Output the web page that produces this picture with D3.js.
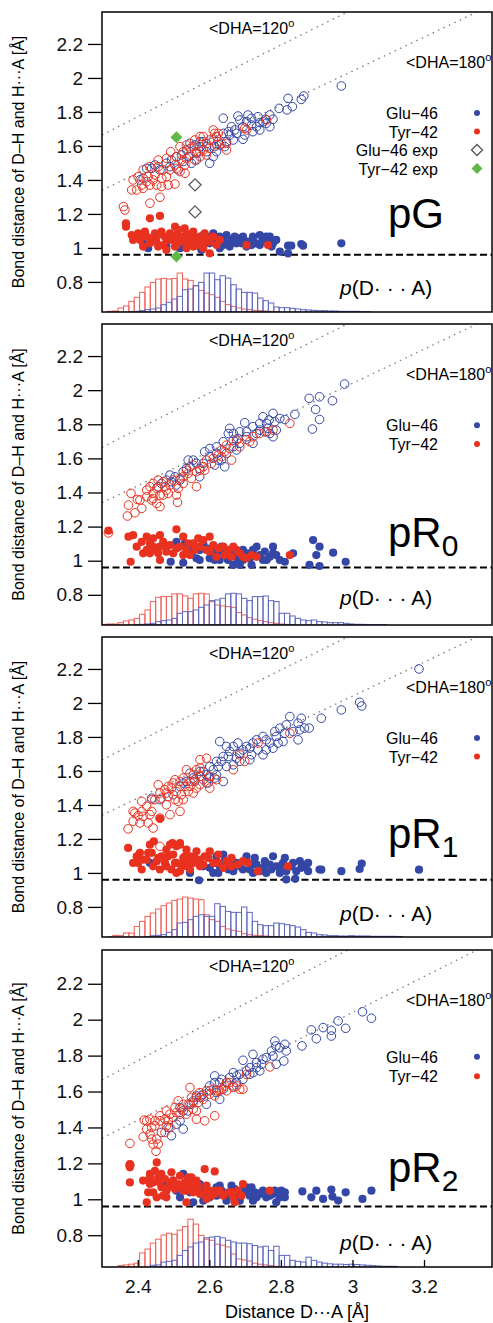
<!DOCTYPE html>
<html>
<head>
<meta charset="utf-8">
<script src="https://cdn.jsdelivr.net/npm/d3@7"></script>
<style>
body { margin: 0; background: #fff; }
svg { display: block; }
text { font-family: "Liberation Sans", Arial, Helvetica, sans-serif; }
</style>
</head>
<body>
<script>
// ---- data ----
var xTicks = [2.4, 2.6, 2.8, 3, 3.2];
var yTicks = [0.8, 1, 1.2, 1.4, 1.6, 1.8, 2, 2.2];
var panelNames = ["pG", "pR0", "pR1", "pR2"];
var dhEq = 0.96;              // equilibrium D-H distance (dashed line)
var histStart = 2.30, histBin = 0.015;

// pG
var pG_glu_HA = [[2.969,1.953],[2.820,1.880],[2.864,1.894],[2.857,1.874],[2.832,1.831],[2.817,1.812],[2.795,1.821],[2.680,1.776],[2.639,1.763],[2.708,1.782],[2.736,1.772],[2.757,1.757],[2.778,1.757],[2.769,1.713],[2.741,1.694],[2.718,1.723],[2.694,1.713],[2.676,1.674],[2.653,1.684],[2.667,1.635],[2.694,1.639],[2.722,1.684],[2.750,1.743],[2.704,1.743],[2.662,1.713],[2.639,1.674],[2.643,1.596],[2.615,1.596],[2.611,1.537],[2.592,1.566],[2.574,1.596],[2.564,1.517],[2.550,1.498],[2.536,1.576],[2.527,1.508],[2.513,1.459],[2.490,1.478],[2.462,1.459],[2.439,1.468],[2.425,1.468],[2.415,1.410],[2.406,1.400],[2.583,1.625],[2.625,1.625],[2.559,1.606],[2.508,1.537],[2.480,1.498],[2.541,1.537],[2.601,1.498],
    [2.574,1.625],[2.592,1.596],[2.611,1.635],[2.629,1.606],[2.657,1.664],[2.671,1.694],[2.685,1.753],[2.718,1.763],[2.741,1.737],[2.759,1.733],[2.620,1.566],[2.564,1.557],[2.522,1.547],[2.494,1.517],[2.448,1.488],[2.546,1.615],[2.648,1.625],[2.699,1.664],[2.769,1.782],[2.732,1.713]];
var pG_tyr_HA = [[2.360,1.243],[2.364,1.223],[2.383,1.341],[2.397,1.341],[2.387,1.400],[2.411,1.370],[2.434,1.370],[2.453,1.370],[2.434,1.263],[2.462,1.298],[2.485,1.370],[2.504,1.376],[2.429,1.419],[2.448,1.429],[2.467,1.410],[2.471,1.459],[2.490,1.459],[2.504,1.488],[2.522,1.517],[2.492,1.566],[2.527,1.566],[2.546,1.547],[2.559,1.517],[2.574,1.537],[2.583,1.576],[2.601,1.586],[2.620,1.606],[2.625,1.674],[2.615,1.674],[2.634,1.615],[2.648,1.576],[2.601,1.635],[2.574,1.655],[2.555,1.596],[2.536,1.527],[2.518,1.449],[2.480,1.419],[2.457,1.478],[2.443,1.400],[2.415,1.351],[2.760,1.753],[2.704,1.694],[2.592,1.615],[2.564,1.566],[2.508,1.468],[2.532,1.439],
    [2.518,1.596],[2.536,1.606],[2.559,1.635],[2.583,1.655],[2.611,1.694],[2.620,1.655],[2.508,1.537],[2.480,1.527],[2.457,1.517],[2.434,1.478],[2.415,1.459],[2.401,1.419],[2.425,1.390],[2.466,1.361],[2.546,1.586],[2.574,1.566],[2.592,1.547],[2.699,1.704],[2.648,1.615],[2.532,1.488]];
var pG_glu_DH = [[2.429,0.998],[2.480,1.008],[2.518,0.998],[2.555,1.066],[2.583,1.076],[2.611,1.086],[2.629,1.066],[2.648,1.076],[2.662,1.047],[2.676,1.027],[2.694,1.066],[2.708,1.037],[2.722,1.066],[2.732,1.027],[2.750,1.047],[2.769,1.066],[2.778,1.027],[2.797,0.978],[2.820,1.013],[2.829,1.013],[2.820,0.968],[2.857,1.023],[2.862,1.013],[2.969,1.027],[2.573,1.008],[2.601,1.027],[2.620,1.047],[2.639,1.017],[2.680,1.057],[2.704,1.008],[2.741,1.076],[2.759,1.037],[2.415,1.027],[2.541,1.047],[2.657,1.008],[2.718,1.017],
    [2.564,1.047],[2.592,1.066],[2.615,1.057],[2.639,1.047],[2.653,1.027],[2.671,1.066],[2.690,1.027],[2.722,1.037],[2.741,1.017],[2.759,1.066],[2.787,1.047],[2.774,1.008],[2.629,0.998],[2.578,0.988],[2.518,1.027]];
var pG_tyr_DH = [[2.367,1.145],[2.367,1.125],[2.434,1.174],[2.462,1.188],[2.504,1.125],[2.531,1.115],[2.383,1.076],[2.397,1.066],[2.411,1.082],[2.425,1.066],[2.443,1.057],[2.457,1.076],[2.476,1.066],[2.490,1.086],[2.508,1.076],[2.522,1.066],[2.536,1.086],[2.555,1.096],[2.434,1.027],[2.452,1.037],[2.471,1.017],[2.490,1.047],[2.508,1.017],[2.527,1.037],[2.546,1.027],[2.564,1.047],[2.583,1.027],[2.601,1.037],[2.620,1.017],[2.574,1.066],[2.592,1.057],[2.536,0.998],[2.601,0.968],[2.704,1.017],[2.764,1.017],[2.406,1.047],[2.480,0.988],[2.518,1.047],[2.629,1.047],[2.555,1.008],
    [2.387,1.047],[2.401,1.086],[2.420,1.096],[2.448,1.086],[2.466,1.096],[2.480,1.047],[2.499,1.057],[2.513,1.106],[2.532,1.057],[2.550,1.066],[2.569,1.017],[2.587,1.086],[2.611,1.066],[2.504,1.008],[2.457,1.008],[2.439,1.057],[2.415,1.008],[2.583,0.998]];
var pG_glu_hist = [0,0,0,0,0,1,2,4,7,9,12,22,29,39,47,67,69,79,89,117,117,97,109,102,82,69,59,59,57,42,34,27,15,13,13,11,9,7,6,5,4,4,3,3,2,2,2,2,1,1];
var pG_tyr_hist = [0,2,3,12,18,32,44,59,75,89,99,101,99,101,117,99,95,79,65,57,52,44,32,22,17,12,9,7,5,4,3,2,1];
var gluExp = [[2.560,1.371],[2.560,1.212]];
var tyrExp = [[2.508,1.651],[2.508,0.949]];

// pR0
var pR0_glu_HA = [[2.978,2.036],[2.879,1.952],[2.908,1.961],[2.944,1.938],[2.897,1.887],[2.908,1.828],[2.888,1.772],[2.839,1.858],[2.811,1.828],[2.778,1.864],[2.783,1.815],[2.767,1.825],[2.750,1.844],[2.741,1.805],[2.722,1.786],[2.699,1.809],[2.685,1.756],[2.667,1.746],[2.653,1.746],[2.680,1.717],[2.704,1.727],[2.722,1.688],[2.755,1.756],[2.778,1.727],[2.787,1.766],[2.764,1.776],[2.639,1.698],[2.620,1.668],[2.648,1.629],[2.667,1.668],[2.587,1.639],[2.601,1.610],[2.625,1.590],[2.583,1.571],[2.555,1.590],[2.541,1.590],[2.546,1.551],[2.573,1.492],[2.527,1.522],[2.518,1.473],[2.490,1.502],[2.494,1.463],[2.466,1.453],[2.643,1.551],[2.615,1.561],[2.573,1.541],[2.508,1.444],
    [2.667,1.707],[2.685,1.688],[2.704,1.756],[2.732,1.746],[2.760,1.805],[2.797,1.834],[2.769,1.746],[2.620,1.629],[2.601,1.658],[2.564,1.571],[2.536,1.541],[2.504,1.492],[2.480,1.473],[2.457,1.434],[2.657,1.776],[2.676,1.649],[2.741,1.766],[2.634,1.590]];
var pR0_tyr_HA = [[2.374,1.326],[2.371,1.262],[2.392,1.281],[2.411,1.307],[2.381,1.395],[2.399,1.359],[2.425,1.375],[2.434,1.434],[2.443,1.395],[2.453,1.336],[2.462,1.317],[2.471,1.385],[2.485,1.395],[2.457,1.473],[2.471,1.463],[2.490,1.444],[2.513,1.424],[2.511,1.342],[2.518,1.483],[2.536,1.531],[2.550,1.483],[2.564,1.434],[2.574,1.531],[2.592,1.590],[2.587,1.531],[2.606,1.571],[2.625,1.619],[2.643,1.639],[2.657,1.658],[2.662,1.590],[2.634,1.649],[2.676,1.707],[2.704,1.711],[2.722,1.727],[2.741,1.746],[2.760,1.756],[2.825,1.805],[2.443,1.453],[2.480,1.414],[2.527,1.453],[2.555,1.561],[2.439,1.356],[2.318,1.163],
    [2.425,1.414],[2.453,1.424],[2.476,1.434],[2.499,1.473],[2.527,1.492],[2.541,1.512],[2.564,1.522],[2.583,1.551],[2.611,1.600],[2.634,1.610],[2.648,1.678],[2.685,1.668],[2.713,1.698],[2.406,1.356],[2.462,1.385],[2.508,1.385],[2.778,1.766],[2.443,1.365]];
var pR0_glu_DH = [[2.508,1.111],[2.532,1.102],[2.555,1.092],[2.573,1.063],[2.592,1.072],[2.611,1.043],[2.629,1.053],[2.652,1.004],[2.667,0.975],[2.685,0.975],[2.704,1.043],[2.722,1.063],[2.741,1.033],[2.760,1.004],[2.778,1.082],[2.778,1.043],[2.797,1.004],[2.811,0.994],[2.834,1.043],[2.492,0.994],[2.527,0.988],[2.573,1.004],[2.601,1.014],[2.671,1.043],[2.713,1.014],[2.750,1.004],[2.890,1.121],[2.908,1.082],[2.899,1.033],[2.946,1.047],[2.880,0.975],[2.908,0.969],[2.981,0.994],[2.629,1.004],[2.694,1.004],[2.550,1.043],
    [2.546,1.072],[2.583,1.102],[2.606,1.053],[2.634,1.082],[2.648,1.043],[2.680,1.004],[2.694,1.063],[2.732,1.082],[2.755,1.053],[2.769,1.023],[2.787,1.033],[2.718,0.975],[2.615,1.004],[2.564,1.014]];
var pR0_tyr_DH = [[2.318,1.176],[2.374,1.141],[2.387,1.150],[2.411,1.111],[2.380,0.994],[2.425,1.063],[2.443,1.131],[2.462,1.150],[2.434,1.043],[2.457,1.043],[2.480,1.082],[2.480,1.053],[2.508,1.184],[2.499,1.043],[2.518,1.082],[2.536,1.063],[2.555,1.102],[2.546,1.033],[2.569,1.131],[2.573,1.082],[2.592,1.063],[2.611,1.092],[2.620,1.023],[2.639,1.082],[2.653,1.063],[2.667,1.082],[2.662,1.023],[2.685,1.043],[2.704,1.014],[2.732,1.023],[2.462,1.082],[2.415,1.043],[2.443,1.082],[2.825,1.033],[2.601,1.141],[2.527,1.141],
    [2.397,1.082],[2.434,1.102],[2.453,1.063],[2.471,1.111],[2.490,1.092],[2.508,1.072],[2.527,1.033],[2.541,1.102],[2.559,1.063],[2.583,1.121],[2.601,1.053],[2.625,1.072],[2.643,1.033],[2.676,1.063],[2.694,1.023],[2.718,1.033],[2.425,1.141],[2.462,1.004]];
var pR0_glu_hist = [0,0,0,0,0,0,1,2,3,5,10,13,15,20,35,40,40,45,53,60,73,75,80,93,95,93,80,73,85,85,87,73,70,35,35,27,20,15,13,15,10,9,7,7,7,5,3,2,2,1,1,1,1];
var pR0_tyr_hist = [2,3,3,7,12,15,20,32,45,70,83,85,85,93,93,87,80,93,95,93,70,60,57,55,53,37,30,22,17,13,10,7,5,3,2,1];

// pR1
var pR1_glu_HA = [[3.186,2.200],[3.020,2.004],[3.026,1.982],[2.969,1.959],[2.913,1.910],[2.825,1.920],[2.857,1.910],[2.848,1.881],[2.866,1.852],[2.879,1.852],[2.834,1.832],[2.811,1.822],[2.797,1.852],[2.787,1.803],[2.806,1.773],[2.848,1.783],[2.778,1.734],[2.769,1.764],[2.750,1.803],[2.722,1.764],[2.736,1.724],[2.718,1.695],[2.704,1.744],[2.680,1.764],[2.629,1.773],[2.685,1.705],[2.653,1.685],[2.634,1.656],[2.625,1.626],[2.648,1.626],[2.667,1.636],[2.676,1.675],[2.611,1.607],[2.620,1.577],[2.639,1.538],[2.592,1.577],[2.583,1.597],[2.574,1.568],[2.546,1.587],[2.559,1.538],[2.536,1.538],[2.518,1.509],[2.499,1.460],[2.462,1.431],[2.439,1.440],[2.713,1.666],[2.648,1.744],[2.759,1.724],[2.601,1.558],
    [2.601,1.626],[2.620,1.656],[2.639,1.685],[2.657,1.715],[2.667,1.744],[2.694,1.724],[2.713,1.734],[2.732,1.783],[2.759,1.783],[2.783,1.832],[2.815,1.871],[2.853,1.842],[2.574,1.597],[2.555,1.558],[2.527,1.529],[2.592,1.529],[2.615,1.558],[2.685,1.656],[2.750,1.695],[2.792,1.764]];
var pR1_tyr_HA = [[2.373,1.259],[2.392,1.352],[2.387,1.362],[2.401,1.337],[2.406,1.294],[2.411,1.362],[2.443,1.264],[2.434,1.343],[2.439,1.362],[2.411,1.421],[2.439,1.431],[2.462,1.323],[2.490,1.343],[2.518,1.362],[2.513,1.421],[2.466,1.440],[2.480,1.401],[2.476,1.489],[2.485,1.450],[2.494,1.499],[2.508,1.479],[2.504,1.548],[2.527,1.558],[2.522,1.460],[2.541,1.479],[2.546,1.509],[2.555,1.577],[2.564,1.499],[2.574,1.666],[2.592,1.675],[2.574,1.519],[2.574,1.617],[2.601,1.499],[2.597,1.529],[2.667,1.607],[2.685,1.695],[2.699,1.656],[2.736,1.764],[2.825,1.822],[2.457,1.519],[2.536,1.607],[2.564,1.607],[2.462,1.156],
    [2.485,1.509],[2.499,1.529],[2.518,1.538],[2.532,1.509],[2.546,1.538],[2.559,1.548],[2.574,1.568],[2.583,1.548],[2.462,1.470],[2.448,1.431],[2.425,1.392],[2.415,1.333],[2.480,1.470],[2.504,1.431],[2.527,1.431],[2.555,1.470],[2.601,1.568],[2.620,1.548],[2.387,1.304],[2.429,1.294]];
var pR1_glu_DH = [[2.913,1.019],[2.969,1.010],[3.020,1.023],[3.026,1.055],[3.186,1.019],[2.639,1.108],[2.615,1.059],[2.625,1.000],[2.648,1.049],[2.667,1.010],[2.685,1.039],[2.704,1.069],[2.713,1.020],[2.732,1.049],[2.741,1.010],[2.750,1.030],[2.778,1.098],[2.769,1.049],[2.787,1.039],[2.806,1.059],[2.815,1.010],[2.829,1.039],[2.843,1.010],[2.853,1.069],[2.871,1.049],[2.876,1.010],[2.629,1.039],[2.662,1.078],[2.722,1.000],[2.797,1.000],[2.434,1.059],[2.546,1.000],[2.583,1.039],[2.704,1.098],[2.862,1.039],[2.759,1.000],[2.571,0.957],[2.815,0.962],[2.840,0.965],[2.908,1.020],
    [2.620,1.098],[2.643,1.069],[2.653,1.020],[2.676,1.059],[2.694,1.020],[2.718,1.049],[2.727,1.088],[2.755,1.069],[2.773,1.020],[2.797,1.039],[2.811,1.088],[2.834,1.059],[2.857,1.030],[2.876,1.059],[2.601,1.030],[2.611,1.000]];
var pR1_tyr_DH = [[2.373,1.147],[2.462,1.319],[2.387,1.059],[2.406,1.118],[2.411,1.020],[2.434,1.166],[2.439,1.118],[2.453,1.069],[2.466,1.098],[2.490,1.166],[2.518,1.166],[2.480,1.039],[2.499,1.108],[2.508,1.059],[2.527,1.088],[2.536,1.039],[2.518,1.010],[2.546,1.098],[2.555,1.059],[2.564,1.127],[2.574,1.078],[2.583,1.049],[2.597,1.088],[2.601,1.127],[2.625,1.108],[2.625,1.059],[2.648,1.069],[2.662,1.039],[2.680,1.049],[2.694,1.069],[2.736,1.010],[2.820,1.039],[2.494,1.020],[2.462,1.020],[2.425,1.078],[2.536,1.137],[2.401,1.059],[2.508,1.000],[2.445,1.186],[2.497,1.176],[2.518,1.176],
    [2.397,1.098],[2.415,1.078],[2.429,1.118],[2.443,1.039],[2.457,1.088],[2.476,1.059],[2.485,1.098],[2.504,1.059],[2.522,1.049],[2.532,1.098],[2.541,1.059],[2.559,1.088],[2.574,1.039],[2.587,1.098],[2.611,1.059],[2.480,1.137],[2.508,1.157],[2.546,1.020],[2.639,1.030],[2.708,1.059],[2.662,1.088]];
var pR1_glu_hist = [0,0,0,0,0,0,0,0,1,4,5,7,14,22,42,44,52,62,67,62,62,100,92,77,74,74,90,74,47,37,34,34,42,40,37,34,30,22,14,12,7,6,4,4,3,3,4,3,3,3,2,2,2,2,2,1];
var pR1_tyr_hist = [0,1,5,4,12,12,32,47,62,72,84,94,102,110,114,120,117,114,112,67,52,47,32,24,20,17,10,7,5,4,3,2,1];

// pR2
var pR2_glu_HA = [[3.028,2.044],[3.053,2.008],[2.960,1.993],[2.981,1.952],[2.918,1.956],[2.941,1.941],[2.885,1.943],[2.941,1.909],[2.899,1.894],[2.859,1.854],[2.783,1.881],[2.811,1.863],[2.786,1.854],[2.815,1.826],[2.774,1.826],[2.778,1.798],[2.750,1.780],[2.808,1.770],[2.787,1.752],[2.722,1.807],[2.694,1.774],[2.741,1.715],[2.746,1.752],[2.732,1.733],[2.704,1.715],[2.694,1.668],[2.676,1.687],[2.667,1.631],[2.648,1.650],[2.629,1.557],[2.615,1.687],[2.601,1.604],[2.592,1.529],[2.574,1.567],[2.555,1.548],[2.541,1.492],[2.518,1.511],[2.508,1.418],[2.527,1.391],[2.494,1.354],[2.466,1.372],[2.639,1.613],[2.676,1.650],[2.713,1.696],[2.629,1.650],
    [2.601,1.631],[2.615,1.650],[2.634,1.668],[2.657,1.678],[2.685,1.696],[2.713,1.733],[2.732,1.761],[2.759,1.789],[2.797,1.844],[2.583,1.585],[2.564,1.576],[2.546,1.529],[2.527,1.492],[2.518,1.437],[2.485,1.400],[2.620,1.594],[2.667,1.705],[2.722,1.705]];
var pR2_tyr_HA = [[2.378,1.311],[2.415,1.348],[2.439,1.400],[2.434,1.446],[2.448,1.409],[2.434,1.363],[2.453,1.335],[2.443,1.307],[2.451,1.267],[2.425,1.437],[2.462,1.465],[2.480,1.492],[2.485,1.437],[2.499,1.455],[2.518,1.474],[2.527,1.529],[2.546,1.622],[2.555,1.539],[2.564,1.567],[2.573,1.594],[2.583,1.557],[2.592,1.604],[2.611,1.613],[2.615,1.576],[2.629,1.604],[2.643,1.631],[2.657,1.650],[2.676,1.631],[2.694,1.613],[2.704,1.696],[2.769,1.737],[2.587,1.437],[2.615,1.465],[2.536,1.474],[2.564,1.492],[2.490,1.400],[2.513,1.548],[2.476,1.372],[2.504,1.511],[2.555,1.502],[2.418,1.441],[2.378,1.190],
    [2.462,1.437],[2.476,1.446],[2.490,1.474],[2.508,1.483],[2.522,1.502],[2.541,1.529],[2.550,1.567],[2.569,1.539],[2.578,1.576],[2.601,1.585],[2.620,1.604],[2.634,1.613],[2.648,1.604],[2.667,1.622],[2.448,1.437],[2.439,1.335],[2.457,1.307],[2.425,1.391],[2.480,1.409],[2.564,1.446],[2.648,1.650],[2.685,1.613]];
var pR2_glu_DH = [[2.860,1.044],[2.885,1.011],[2.899,1.048],[2.918,1.002],[2.941,1.054],[2.944,1.015],[2.960,0.993],[2.981,1.039],[3.028,1.002],[3.053,1.048],[2.527,1.141],[2.499,1.104],[2.546,1.039],[2.573,1.085],[2.592,1.048],[2.620,1.067],[2.639,1.030],[2.662,1.076],[2.676,1.020],[2.694,1.048],[2.713,1.020],[2.727,1.039],[2.741,1.030],[2.759,1.011],[2.778,1.030],[2.787,0.983],[2.801,1.048],[2.811,1.011],[2.518,1.011],[2.555,0.983],[2.601,1.011],[2.648,0.992],[2.685,0.992],[2.722,0.992],[2.476,1.085],[2.583,0.992],[2.704,1.067],[2.750,1.048],[2.629,1.076],
    [2.536,1.085],[2.559,1.048],[2.583,1.057],[2.606,1.039],[2.620,1.020],[2.634,1.048],[2.657,1.020],[2.671,1.057],[2.685,1.030],[2.708,1.039],[2.732,1.011],[2.746,1.039],[2.769,1.020],[2.783,1.048],[2.797,1.011],[2.811,1.039],[2.508,1.048],[2.718,1.067]];
var pR2_tyr_DH = [[2.378,1.196],[2.378,1.178],[2.378,1.094],[2.415,1.104],[2.453,1.205],[2.434,1.141],[2.448,1.159],[2.466,1.141],[2.494,1.150],[2.518,1.131],[2.550,1.122],[2.564,1.104],[2.587,1.168],[2.615,1.155],[2.434,1.085],[2.443,1.039],[2.425,0.983],[2.453,1.011],[2.466,1.067],[2.480,1.048],[2.490,1.085],[2.504,1.057],[2.522,1.076],[2.536,1.048],[2.546,1.076],[2.564,1.057],[2.574,1.030],[2.536,0.983],[2.601,1.048],[2.615,1.030],[2.629,1.048],[2.653,1.039],[2.667,1.011],[2.671,0.983],[2.680,1.048],[2.694,1.085],[2.769,1.048],[2.480,1.011],[2.462,1.094],[2.592,1.002],
    [2.434,1.122],[2.443,1.094],[2.457,1.122],[2.476,1.113],[2.485,1.067],[2.499,1.104],[2.513,1.085],[2.527,1.048],[2.532,1.094],[2.555,1.085],[2.555,1.039],[2.569,1.076],[2.583,1.039],[2.592,1.076],[2.606,1.020],[2.620,1.048],[2.639,1.020],[2.662,1.039],[2.690,1.020],[2.541,1.122],[2.429,1.039],[2.471,1.020]];
var pR2_glu_hist = [0,0,0,0,0,0,0,0,0,5,6,14,16,19,33,47,57,68,71,83,85,87,83,76,71,68,68,66,61,57,59,47,59,33,33,19,16,14,28,19,14,11,9,8,8,7,8,7,6,5,4,3,2,2,2];
var pR2_tyr_hist = [0,0,0,4,6,8,11,40,51,68,79,91,96,93,105,115,136,122,90,79,76,65,62,57,37,23,20,17,11,8,6,4,2];

// ---- layout ----
var width = 493, height = 1323;
var left = 102, right = 492;
var tops = [12, 324, 637, 950];
var bottoms = [312, 625, 937, 1267];
var yMin = 0.623, yMax = 2.388;
var labelY = [1.116, 1.082, 1.149, 1.094];
var pdaY = [0.724, 0.740, 0.716, 0.715];

var red = "#e8321f", blue = "#3447a6";
var redHist = "#ef6258", blueHist = "#5e67c2";

var panels = [
    {main: "pG", sub: "", gluHA: pG_glu_HA, tyrHA: pG_tyr_HA, gluDH: pG_glu_DH, tyrDH: pG_tyr_DH, gluHist: pG_glu_hist, tyrHist: pG_tyr_hist},
    {main: "pR", sub: "0", gluHA: pR0_glu_HA, tyrHA: pR0_tyr_HA, gluDH: pR0_glu_DH, tyrDH: pR0_tyr_DH, gluHist: pR0_glu_hist, tyrHist: pR0_tyr_hist},
    {main: "pR", sub: "1", gluHA: pR1_glu_HA, tyrHA: pR1_tyr_HA, gluDH: pR1_glu_DH, tyrDH: pR1_tyr_DH, gluHist: pR1_glu_hist, tyrHist: pR1_tyr_hist},
    {main: "pR", sub: "2", gluHA: pR2_glu_HA, tyrHA: pR2_tyr_HA, gluDH: pR2_glu_DH, tyrDH: pR2_tyr_DH, gluHist: pR2_glu_hist, tyrHist: pR2_tyr_hist}
];

var svg = d3.select("body").append("svg")
    .attr("width", width)
    .attr("height", height);

var x = d3.scaleLinear().domain([2.3, 3.39]).range([left, right]);
var histH = d3.scaleLinear().domain([0, 120]).range([0, 0.235]);

var diamond = (cx, cy, r) => "M" + cx + "," + (cy - r) + "L" + (cx + r) + "," + cy +
    "L" + cx + "," + (cy + r) + "L" + (cx - r) + "," + cy + "Z";

// angle D-H...A = 120 deg curve and 180 deg line
var line120 = d3.range(2.3, 3.40, 0.01).map(d => [d, (-dhEq + Math.sqrt(4 * d * d - 3 * dhEq * dhEq)) / 2]);
var line180 = [[2.3, 2.3 - dhEq], [3.39, 3.39 - dhEq]];

panels.forEach((p, i) => {
    var top = tops[i], bot = bottoms[i];
    var k = (bot - top) / 300;
    var y = d3.scaleLinear().domain([yMin, yMax]).range([bot, top]);
    var g = svg.append("g");

    g.append("clipPath").attr("id", "clip" + i)
        .append("rect")
        .attr("x", left).attr("y", top)
        .attr("width", right - left).attr("height", bot - top);

    var plot = g.append("g").attr("clip-path", "url(#clip" + i + ")");

    // histograms of D...A
    [[p.tyrHist, redHist], [p.gluHist, blueHist]].forEach(h => {
        plot.append("g").selectAll("rect")
            .data(h[0].map((c, j) => ({j: j, c: c})).filter(d => d.c > 0))
            .enter().append("rect")
            .attr("x", d => x(histStart + d.j * histBin))
            .attr("width", d => x(histStart + (d.j + 1) * histBin) - x(histStart + d.j * histBin))
            .attr("y", d => y(yMin + histH(d.c)))
            .attr("height", d => y(yMin) - y(yMin + histH(d.c)))
            .attr("fill", "none")
            .attr("stroke", h[1])
            .attr("stroke-width", 1);
    });

    var ln = d3.line().x(d => x(d[0])).y(d => y(d[1]));
    [line120, line180].forEach(l => {
        plot.append("path").attr("d", ln(l))
            .attr("fill", "none").attr("stroke", "#7a7a7a")
            .attr("stroke-width", 1.3).attr("stroke-dasharray", "1.5,4.5");
    });

    plot.append("line")
        .attr("x1", left).attr("x2", right)
        .attr("y1", y(dhEq)).attr("y2", y(dhEq))
        .attr("stroke", "#000").attr("stroke-width", 2)
        .attr("stroke-dasharray", "7,3.5");

    // H...A open circles
    [[p.gluHA, blue], [p.tyrHA, red]].forEach(s => {
        plot.append("g").selectAll("circle")
            .data(s[0]).enter().append("circle")
            .attr("cx", d => x(d[0])).attr("cy", d => y(d[1]))
            .attr("r", 4.3)
            .attr("fill", "none").attr("stroke", s[1]).attr("stroke-width", 1);
    });
    // D-H filled circles
    [[p.gluDH, blue], [p.tyrDH, red]].forEach(s => {
        plot.append("g").selectAll("circle")
            .data(s[0]).enter().append("circle")
            .attr("cx", d => x(d[0])).attr("cy", d => y(d[1]))
            .attr("r", 4.1)
            .attr("fill", s[1]);
    });

    if (i == 0) {
        plot.selectAll("path.gexp").data(gluExp).enter().append("path")
            .attr("d", d => diamond(x(d[0]), y(d[1]), 6))
            .attr("fill", "none").attr("stroke", "#555").attr("stroke-width", 1.3);
        plot.selectAll("path.texp").data(tyrExp).enter().append("path")
            .attr("d", d => diamond(x(d[0]), y(d[1]), 6))
            .attr("fill", "#62b846");
    }

    // frame
    g.append("rect")
        .attr("x", left).attr("y", top)
        .attr("width", right - left).attr("height", bot - top)
        .attr("fill", "none").attr("stroke", "#000").attr("stroke-width", 1.5);

    // y axis
    var ya = g.append("g").attr("transform", "translate(" + left + ",0)")
        .call(d3.axisLeft(y).tickValues(yTicks).tickSize(14).tickPadding(5).tickFormat(d => String(d)));
    ya.select(".domain").remove();
    ya.selectAll("line").attr("stroke-width", 1.3);
    ya.selectAll("text").attr("font-size", 19).attr("fill", "#111")
        .style("font-family", "'Liberation Sans', Arial, sans-serif");

    g.append("text")
        .attr("transform", "translate(24," + (top + 150 * k) + ") rotate(-90)")
        .attr("text-anchor", "middle")
        .attr("font-size", 16)
        .text("Bond distance of D\u2013H and H\u00b7\u00b7\u00b7A [\u00c5]");

    // angle labels
    var t120 = g.append("text").attr("x", 209).attr("y", top + 21.5).attr("font-size", 16);
    t120.append("tspan").text("<DHA=120");
    t120.append("tspan").attr("font-size", 11).attr("dy", -7).text("o");
    var t180 = g.append("text").attr("x", 406).attr("y", top + 55.5).attr("font-size", 16);
    t180.append("tspan").text("<DHA=180");
    t180.append("tspan").attr("font-size", 11).attr("dy", -7).text("o");

    // state label
    var tl = g.append("text").attr("x", 388).attr("y", y(labelY[i])).attr("font-size", 42);
    tl.append("tspan").text(p.main);
    if (p.sub) tl.append("tspan").attr("font-size", 30).attr("dy", 9).text(p.sub);

    var tp = g.append("text").attr("x", 340).attr("y", y(pdaY[i])).attr("font-size", 21);
    tp.append("tspan").attr("font-style", "italic").text("p");
    tp.append("tspan").text("(D\u00b7 \u00b7 \u00b7 A)");

    // legend
    var legend = [["Glu\u221246", "dot", blue], ["Tyr\u221242", "dot", red]];
    if (i == 0) legend.push(["Glu\u221246 exp", "open", "#555"], ["Tyr\u221242 exp", "diamond", "#62b846"]);
    legend.forEach((e, j) => {
        var cy = top + k * (101 + j * 18.5);
        g.append("text").attr("x", 438).attr("y", cy + 6)
            .attr("text-anchor", "end").attr("font-size", 16).text(e[0]);
        if (e[1] == "dot") {
            g.append("circle").attr("cx", 477).attr("cy", cy).attr("r", 3).attr("fill", e[2]);
        } else if (e[1] == "open") {
            g.append("path").attr("d", diamond(477, cy, 5.5)).attr("fill", "none")
                .attr("stroke", e[2]).attr("stroke-width", 1.3);
        } else {
            g.append("path").attr("d", diamond(477, cy, 5.5)).attr("fill", e[2]);
        }
    });

    if (i == 3) {
        var xa = g.append("g").attr("transform", "translate(0," + bot + ")")
            .call(d3.axisBottom(x).tickValues(xTicks).tickSizeInner(-7).tickSizeOuter(0).tickPadding(13).tickFormat(d => String(d)));
        xa.select(".domain").remove();
        xa.selectAll("line").attr("stroke-width", 1.3);
        xa.selectAll("text").attr("font-size", 19).attr("fill", "#111")
            .style("font-family", "'Liberation Sans', Arial, sans-serif");
        g.append("text").attr("x", 297).attr("y", 1318)
            .attr("text-anchor", "middle").attr("font-size", 18)
            .text("Distance D\u00b7\u00b7\u00b7A [\u00c5]");
    }
});
</script>
</body>
</html>
